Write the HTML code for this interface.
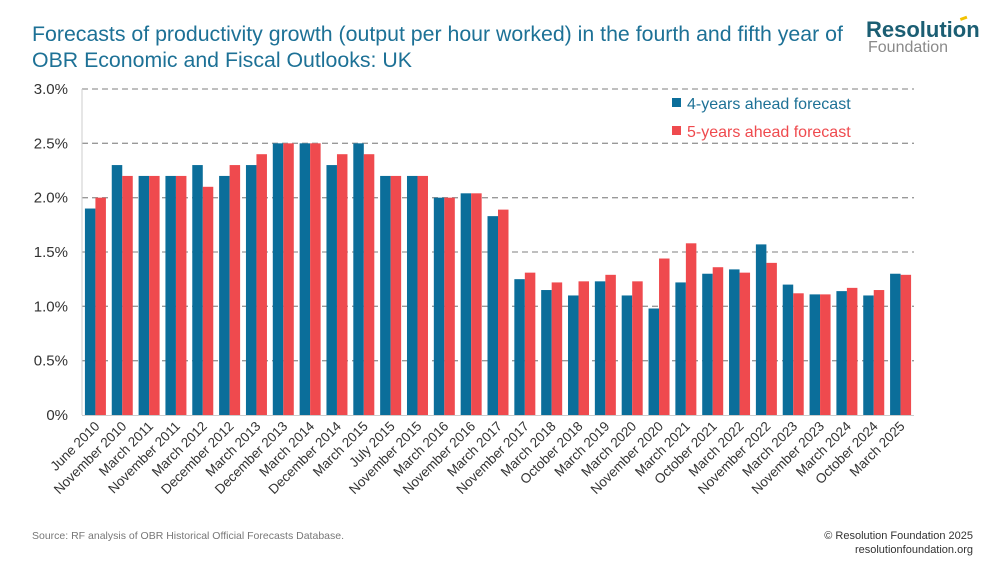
<!DOCTYPE html>
<html><head><meta charset="utf-8"><style>
body{margin:0;background:#fff;width:1000px;height:563px;overflow:hidden;font-family:"Liberation Sans",sans-serif;}
</style></head><body>
<svg width="1000" height="563" xmlns="http://www.w3.org/2000/svg">
<text x="32" y="41" font-size="21.3" fill="#1d7196">Forecasts of productivity growth (output per hour worked) in the fourth and fifth year of</text>
<text x="32" y="67" font-size="21.3" fill="#1d7196">OBR Economic and Fiscal Outlooks: UK</text>
<text x="866" y="37" font-size="22" font-weight="bold" fill="#1b5e73">Resolution</text>
<rect x="960" y="17" width="7" height="3" fill="#f2c200" transform="rotate(-20 963 18)"/>
<text x="868" y="52" font-size="16" fill="#8a8a8a">Foundation</text>
<g id="grid"></g>
<g id="bars"></g>
<g id="xlabels"></g>
<rect x="672" y="98" width="9" height="9" fill="#0b6e9a"/>
<text x="687" y="109" font-size="16" fill="#1d7196">4-years ahead forecast</text>
<rect x="672" y="126" width="9" height="9" fill="#ef4a4e"/>
<text x="687" y="137" font-size="16" fill="#ef4a4e">5-years ahead forecast</text>
<text x="32" y="539" font-size="10.5" fill="#777">Source: RF analysis of OBR Historical Official Forecasts Database.</text>
<text x="973" y="539" font-size="11" fill="#333" text-anchor="end">© Resolution Foundation 2025</text>
<text x="973" y="553" font-size="11" fill="#333" text-anchor="end">resolutionfoundation.org</text>
</svg>
<script>
const categories=["June 2010","November 2010","March 2011","November 2011","March 2012","December 2012","March 2013","December 2013","March 2014","December 2014","March 2015","July 2015","November 2015","March 2016","November 2016","March 2017","November 2017","March 2018","October 2018","March 2019","March 2020","November 2020","March 2021","October 2021","March 2022","November 2022","March 2023","November 2023","March 2024","October 2024","March 2025"];
const fourYear=[1.9,2.3,2.2,2.2,2.3,2.2,2.3,2.5,2.5,2.3,2.5,2.2,2.2,2.0,2.04,1.83,1.25,1.15,1.1,1.23,1.1,0.98,1.22,1.3,1.34,1.57,1.2,1.11,1.14,1.1,1.3];
const fiveYear=[2.0,2.2,2.2,2.2,2.1,2.3,2.4,2.5,2.5,2.4,2.4,2.2,2.2,2.0,2.04,1.89,1.31,1.22,1.23,1.29,1.23,1.44,1.58,1.36,1.31,1.4,1.12,1.11,1.17,1.15,1.29];
const yTicks=[0,0.5,1.0,1.5,2.0,2.5,3.0];
const yTickLabels=["0%","0.5%","1.0%","1.5%","2.0%","2.5%","3.0%"];
const NS="http://www.w3.org/2000/svg";
const x0=82,x1=914,y0=415,yTop=89,yMax=3;
const gw=(x1-x0)/categories.length;
const y=v=>y0-(v/yMax)*(y0-yTop);
const xc=i=>x0+gw*(i+0.5);
const grid=document.getElementById('grid'),bars=document.getElementById('bars'),xl=document.getElementById('xlabels');
yTicks.forEach((t,i)=>{
  if(t>0){const l=document.createElementNS(NS,'line');
  
  
  l.setAttribute('x1',x0);l.setAttribute('x2',x1);l.setAttribute('y1',y(t));l.setAttribute('y2',y(t));
  l.setAttribute('stroke','#999');l.setAttribute('stroke-dasharray','6 4');l.setAttribute('stroke-width','1.3');grid.appendChild(l);}
  const tx=document.createElementNS(NS,'text');
  
  
  tx.setAttribute('x',68);tx.setAttribute('y',y(t)+5);tx.setAttribute('text-anchor','end');tx.setAttribute('font-size','15');tx.setAttribute('fill','#333');
  tx.textContent=yTickLabels[i];grid.appendChild(tx);
});
const ax=document.createElementNS(NS,'line');


ax.setAttribute('x1',x0);ax.setAttribute('x2',x0);ax.setAttribute('y1',yTop);ax.setAttribute('y2',y0);ax.setAttribute('stroke','#ccc');grid.appendChild(ax);
const bx=document.createElementNS(NS,'line');


bx.setAttribute('x1',x0);bx.setAttribute('x2',x1);bx.setAttribute('y1',y0+0.5);bx.setAttribute('y2',y0+0.5);bx.setAttribute('stroke','#ccc');grid.appendChild(bx);
const bw=10.5;
categories.forEach((c,i)=>{
  const b1=document.createElementNS(NS,'rect');
  
  
  b1.setAttribute('x',xc(i)-bw);b1.setAttribute('width',bw);b1.setAttribute('y',y(fourYear[i]));b1.setAttribute('height',y0-y(fourYear[i]));b1.setAttribute('fill','#0b6e9a');bars.appendChild(b1);
  const b2=document.createElementNS(NS,'rect');
  
  
  b2.setAttribute('x',xc(i));b2.setAttribute('width',bw);b2.setAttribute('y',y(fiveYear[i]));b2.setAttribute('height',y0-y(fiveYear[i]));b2.setAttribute('fill','#ef4a4e');bars.appendChild(b2);
  const t=document.createElementNS(NS,'text');
  
  
  const lx=xc(i)+5,ly=y0+12;
  t.setAttribute('x',lx);t.setAttribute('y',ly);t.setAttribute('text-anchor','end');t.setAttribute('font-size','13.5');t.setAttribute('fill','#333');
  t.setAttribute('transform','rotate(-45 '+lx+' '+ly+')');t.textContent=c;xl.appendChild(t);
});
</script>
</body></html>
